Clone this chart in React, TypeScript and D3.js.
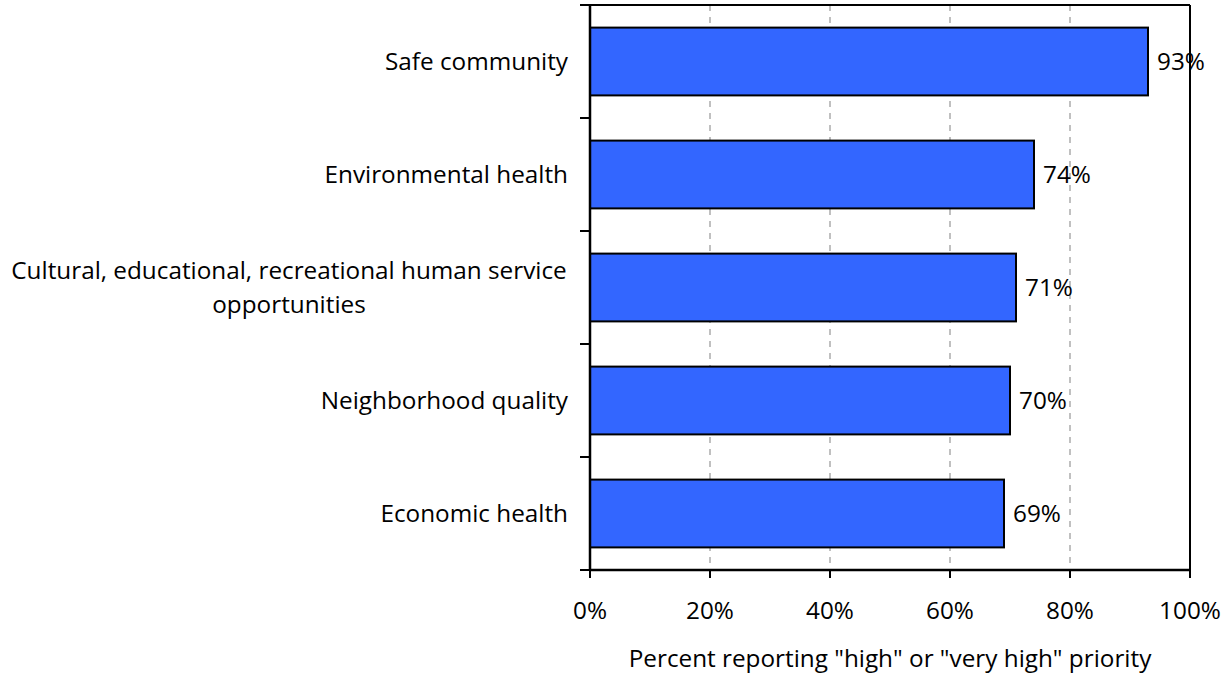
import React from "react";
import * as d3 from "d3";

const categories: string[][] = [
  ["Safe community"],
  ["Environmental health"],
  ["Cultural, educational, recreational human service", "opportunities"],
  ["Neighborhood quality"],
  ["Economic health"],
];
const values: number[] = [93, 74, 71, 70, 69];
const xTicks: number[] = [0, 20, 40, 60, 80, 100];
const xTitle = 'Percent reporting "high" or "very high" priority';

const W = 1230;
const H = 676;
const M = { left: 590, right: 40, top: 5, bottom: 106 };
const FONT = "'Open Sans', sans-serif";
const FS = 24.3;

export default function App() {
  const iw = W - M.left - M.right;
  const ih = H - M.top - M.bottom;
  const x = d3.scaleLinear().domain([0, 100]).range([0, iw]);
  const y = d3
    .scaleBand<number>()
    .domain(d3.range(categories.length))
    .range([0, ih])
    .paddingInner(0.4)
    .paddingOuter(0.2);
  const step = ih / categories.length;

  return (
    <svg width={W} height={H} style={{ position: "absolute", left: 0, top: 0, background: "#fff" }}>
      <g transform={`translate(${M.left},${M.top})`} fontFamily={FONT}>
        {xTicks.filter((t) => t > 0 && t < 100).map((t) => (
          <line key={t} x1={x(t)} x2={x(t)} y1={0} y2={ih} stroke="#c0c0c0" strokeWidth={2} strokeDasharray="6,6" />
        ))}
        <line x1={0} x2={iw} y1={0} y2={0} stroke="#000" strokeWidth={2} />
        <line x1={iw} x2={iw} y1={0} y2={ih} stroke="#000" strokeWidth={2} />
        {values.map((v, i) => (
          <g key={i}>
            <rect x={0} y={y(i)} width={x(v)} height={y.bandwidth()} fill="#3366FF" stroke="#000" strokeWidth={2} />
            <text x={x(v) + 9} y={(y(i) as number) + y.bandwidth() / 2} dy="0.35em" fontSize={FS} fill="#000">
              {v}%
            </text>
          </g>
        ))}
        <line x1={0} x2={0} y1={0} y2={ih} stroke="#000" strokeWidth={2.5} />
        {d3.range(categories.length + 1).map((i) => (
          <line key={i} x1={-10} x2={0} y1={i * step} y2={i * step} stroke="#000" strokeWidth={2} />
        ))}
        {categories.map((lines, i) => {
          const cy = (y(i) as number) + y.bandwidth() / 2;
          const lh = 34;
          const anchorX = -22;
          if (lines.length === 1) {
            return (
              <text key={i} x={anchorX} y={cy} dy="0.35em" textAnchor="end" fontSize={FS}>
                {lines[0]}
              </text>
            );
          }
          return (
            <text key={i} x={anchorX - 279} y={cy - ((lines.length - 1) * lh) / 2} textAnchor="middle" fontSize={FS}>
              {lines.map((l, j) => (
                <tspan key={j} x={anchorX - 279} dy={j === 0 ? "0.35em" : lh}>
                  {l}
                </tspan>
              ))}
            </text>
          );
        })}
        <line x1={0} x2={iw} y1={ih} y2={ih} stroke="#000" strokeWidth={2.5} />
        {xTicks.map((t) => (
          <g key={t}>
            <line x1={x(t)} x2={x(t)} y1={ih} y2={ih + 8} stroke="#000" strokeWidth={2} />
            <text x={x(t)} y={ih + 40} dy="0.35em" textAnchor="middle" fontSize={FS}>
              {t}%
            </text>
          </g>
        ))}
        <text x={iw / 2} y={ih + 88} dy="0.35em" textAnchor="middle" fontSize={FS}>
          {xTitle}
        </text>
      </g>
    </svg>
  );
}
